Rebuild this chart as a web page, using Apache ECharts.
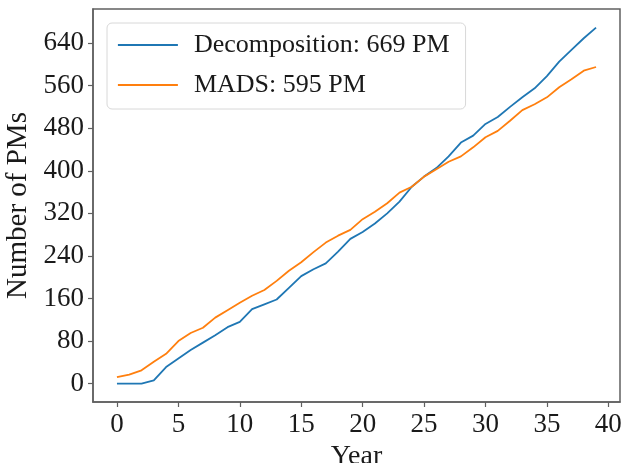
<!DOCTYPE html>
<html>
<head>
<meta charset="utf-8">
<script src="https://cdn.jsdelivr.net/npm/echarts@6/dist/echarts.min.js"></script>
<style>html,body{margin:0;padding:0;background:#fff}#c{width:624px;height:463px}</style>
</head>
<body>
<div id="c"></div>
<script>
var years = [];
for (var i = 0; i < 40; i++) years.push(i);
var decomposition = [0,0,0,6,31,47,63,77,91,106,116,140,149,158,180,202,215,226,248,272,285,301,320,342,370,389,405,427,453,466,488,501,520,538,555,578,605,627,649,669];
var mads = [12,17,25,41,56,80,95,105,124,138,152,165,176,193,212,228,247,265,278,289,309,323,339,359,370,389,403,417,427,444,463,475,494,514,525,538,557,572,588,595];
var xTicks = [0,5,10,15,20,25,30,35,40];
var yTicks = [0,80,160,240,320,400,480,560,640];
var seriesNames = ['Decomposition: 669 PM', 'MADS: 595 PM'];

var FONT = 'Liberation Serif';
var AX = '#606060';
function pairs(v){ return years.map(function(y,i){ return [y, v[i]]; }); }

var chart = echarts.init(document.getElementById('c'), null, {renderer:'canvas'});
chart.setOption({
  animation: false,
  backgroundColor: '#fff',
  textStyle: {fontFamily: FONT},
  grid: {left: 93, right: 4, top: 9, bottom: 61, containLabel: false, outerBoundsMode: 'none',
         show: true, borderColor: AX, borderWidth: 1.5, backgroundColor: 'transparent'},
  legend: {
    orient: 'vertical', left: 107, top: 23,
    padding: [9, 16, 11, 10],
    itemWidth: 60, itemHeight: 26, itemGap: 14,
    borderColor: '#d8d8d8', borderWidth: 1, borderRadius: 5,
    backgroundColor: 'rgba(255,255,255,0.8)',
    itemStyle: {opacity: 0},
    lineStyle: {width: 1.8},
    textStyle: {fontFamily: FONT, fontSize: 26, color: '#1a1a1a', padding: [0,0,0,11]},
    data: seriesNames
  },
  xAxis: {
    type: 'value', min: -1.95, max: 40.95,
    name: 'Year', nameLocation: 'middle', nameGap: 33,
    nameTextStyle: {fontFamily: FONT, fontSize: 28, color: '#1a1a1a'},
    axisLine: {show: true, onZero: false, lineStyle: {color: AX, width: 1.5}},
    axisTick: {show: true, customValues: xTicks, length: 5, inside: false, lineStyle: {color: AX, width: 1.2}},
    axisLabel: {customValues: xTicks, fontFamily: FONT, fontSize: 27, color: '#1a1a1a', margin: 9},
    splitLine: {show: false}
  },
  yAxis: {
    type: 'value', min: -34.6, max: 704,
    name: 'Number of PMs', nameLocation: 'middle', nameGap: 55, nameRotate: 90,
    nameTextStyle: {fontFamily: FONT, fontSize: 29, color: '#1a1a1a'},
    axisLine: {show: true, onZero: false, lineStyle: {color: AX, width: 1.5}},
    axisTick: {show: true, customValues: yTicks, length: 5, inside: false, lineStyle: {color: AX, width: 1.2}},
    axisLabel: {customValues: yTicks, fontFamily: FONT, fontSize: 27, color: '#1a1a1a', margin: 9},
    splitLine: {show: false}
  },
  series: [
    {name: seriesNames[0], type: 'line', data: pairs(decomposition), symbol: 'none', color: '#1f77b4', lineStyle: {width: 1.8, color: '#1f77b4'}},
    {name: seriesNames[1], type: 'line', data: pairs(mads), symbol: 'none', color: '#ff7f0e', lineStyle: {width: 1.8, color: '#ff7f0e'}}
  ]
});
</script>
</body>
</html>
